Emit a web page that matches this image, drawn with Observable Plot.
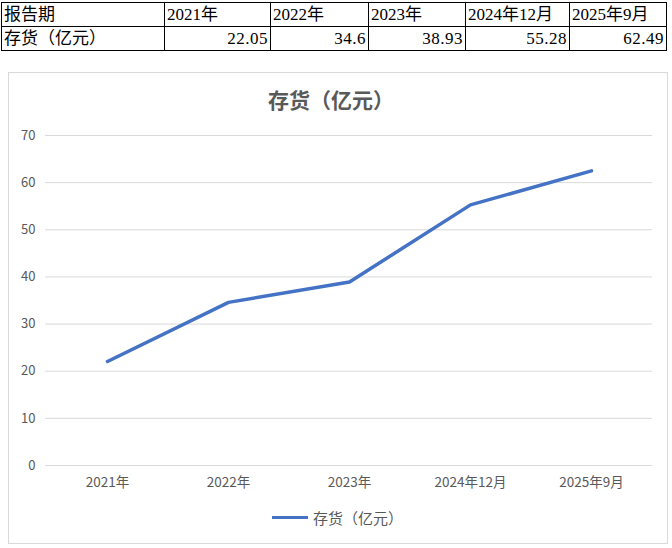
<!DOCTYPE html>
<html>
<head>
<meta charset="utf-8">
<script src="https://cdn.jsdelivr.net/npm/d3@7"></script>
<script src="https://cdn.jsdelivr.net/npm/@observablehq/plot@0.6"></script>
<style>
  html, body { margin: 0; padding: 0; background: #fff; }
  body { width: 672px; height: 548px; position: relative; overflow: hidden; }
  #tbl { position: absolute; left: 1px; top: 2px; border-collapse: collapse;
         font-family: "Liberation Serif", "Noto Sans CJK SC", serif; font-size: 17px; color: #000; }
  #tbl td { border: 1px solid #000; height: 23px; padding: 0 2px; line-height: 23px; white-space: nowrap; }
  #tbl td.num { text-align: right; letter-spacing: 0.5px; }
  #box { position: absolute; left: 8px; top: 72px; width: 658px; height: 470px; border: 1px solid #D9D9D9; }
  #title { position: absolute; left: 0px; top: 84px; width: 662px; text-align: center;
           font-family: "Noto Sans CJK SC", sans-serif; font-weight: bold; font-size: 21px; color: #595959; }
  #chart { position: absolute; left: 8px; top: 110px; }
  #legend { position: absolute; left: 272px; top: 507px; display: flex; align-items: center;
            font-family: "Noto Sans CJK SC", sans-serif; font-size: 15px; color: #595959; }
  #legend .sw { width: 36px; height: 3px; background: #4472C4; margin-right: 5px; }
</style>
</head>
<body>
<table id="tbl"></table>
<div id="box"></div>
<div id="title">存货（亿元）</div>
<div id="chart"></div>
<div id="legend"><span class="sw"></span><span>存货（亿元）</span></div>
<script>
const rowHeader = "报告期";
const seriesName = "存货（亿元）";
const periods = ["2021年", "2022年", "2023年", "2024年12月", "2025年9月"];
const values = [22.05, 34.6, 38.93, 55.28, 62.49];
const yTicks = [0, 10, 20, 30, 40, 50, 60, 70];

// table
const colWidths = [163, 106, 98, 97, 104, 97];
const tbl = document.getElementById("tbl");
const r1 = tbl.insertRow();
const r2 = tbl.insertRow();
[rowHeader, ...periods].forEach((t, i) => {
  const c = r1.insertCell(); c.textContent = t; c.style.width = (colWidths[i] - 5) + "px";
});
[seriesName, ...values.map(String)].forEach((t, i) => {
  const c = r2.insertCell(); c.textContent = t; if (i > 0) c.className = "num";
});

const data = periods.map((p, i) => ({period: p, value: values[i]}));

const plot = Plot.plot({
  width: 659,
  height: 390,
  marginTop: 25,
  marginBottom: 35,
  marginLeft: 37,
  marginRight: 15,
  style: {fontFamily: "'Noto Sans CJK SC', sans-serif", fontSize: "13px", color: "#595959", background: "transparent"},
  x: {type: "point", domain: periods, padding: 0.5},
  y: {domain: [0, 70]},
  marks: [
    Plot.gridY(yTicks, {stroke: "#D9D9D9", strokeOpacity: 1, strokeWidth: 1}),
    Plot.axisY(yTicks, {tickSize: 0, tickPadding: 10, label: null, fill: "#595959", fontSize: 13}),
    Plot.axisX({tickSize: 0, tickPadding: 12, label: null, fill: "#595959", fontSize: 13.5}),
    Plot.line(data, {x: "period", y: "value", stroke: "#4472C4", strokeWidth: 3.5, strokeLinecap: "round", strokeLinejoin: "round"})
  ]
});
document.getElementById("chart").appendChild(plot);
</script>
</body>
</html>
